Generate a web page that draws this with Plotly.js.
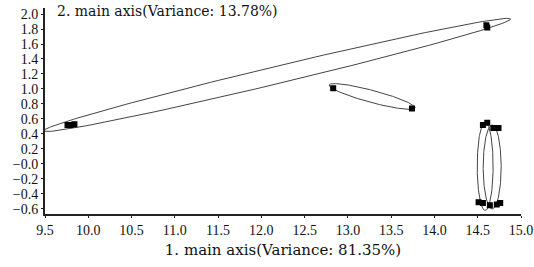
<!DOCTYPE html>
<html>
<head>
<meta charset="utf-8">
<script src="https://cdn.plot.ly/plotly-3.0.1.min.js"></script>
<style>html,body{margin:0;padding:0;background:#fff;}#chart{width:534px;height:267px;}</style>
</head>
<body>
<div id="chart"></div>
<script>
// Score points (main axis 1, main axis 2)
var pointsX = [9.76, 9.80, 9.84, 14.60, 14.61,
               12.83, 13.74,
               14.56, 14.61, 14.68, 14.74, 14.51, 14.56, 14.64, 14.72, 14.76];
var pointsY = [0.52, 0.52, 0.53, 1.85, 1.82,
               1.01, 0.74,
               0.52, 0.55, 0.48, 0.48, -0.51, -0.52, -0.55, -0.54, -0.52];

// Confidence ellipses: centre, half major-axis vector, half minor-axis vector (data units)
var ellCx  = [12.18, 13.28, 14.586, 14.667];
var ellCy  = [1.187, 0.90, -0.03, -0.04];
var ellAx  = [2.70, 0.497, 0.0, 0.0];
var ellAy  = [0.747, -0.153, 0.59, 0.56];
var ellBx  = [0.024, -0.018, 0.092, 0.104];
var ellBy  = [-0.112, -0.078, 0.0, 0.0];

var xTickVals = [9.5, 10.0, 10.5, 11.0, 11.5, 12.0, 12.5, 13.0, 13.5, 14.0, 14.5, 15.0];
var xTickText = ["9.5","10.0","10.5","11.0","11.5","12.0","12.5","13.0","13.5","14.0","14.5","15.0"];
var yTickVals = [2.0, 1.8, 1.6, 1.4, 1.2, 1.0, 0.8, 0.6, 0.4, 0.2, 0.0, -0.2, -0.4, -0.6];
var yTickText = ["2.0","1.8","1.6","1.4","1.2","1.0","0.8","0.6","0.4","0.2","\u22120.0","\u22120.2","\u22120.4","\u22120.6"];

var xTitle = "1. main axis(Variance: 81.35%)";
var yTitle = "2. main axis(Variance: 13.78%)";

var FONT = "Liberation Serif, Times New Roman, serif";
var TFONT = "DejaVu Serif, serif";
var traces = [];
for (var i = 0; i < ellCx.length; i++) {
  var ex = [], ey = [];
  for (var k = 0; k <= 180; k++) {
    var t = 2 * Math.PI * k / 180;
    ex.push(ellCx[i] + ellAx[i] * Math.cos(t) + ellBx[i] * Math.sin(t));
    ey.push(ellCy[i] + ellAy[i] * Math.cos(t) + ellBy[i] * Math.sin(t));
  }
  traces.push({x: ex, y: ey, mode: 'lines', line: {color: '#444', width: 1}, hoverinfo: 'skip', showlegend: false});
}
traces.push({x: pointsX, y: pointsY, mode: 'markers', marker: {symbol: 'square', size: 6, color: '#000'}, showlegend: false});

var layout = {
  width: 534, height: 267,
  margin: {l: 44.5, r: 13, t: 8, b: 53},
  paper_bgcolor: '#fff', plot_bgcolor: '#fff',
  showlegend: false,
  font: {family: FONT, color: '#111', size: 14},
  xaxis: {
    range: [9.5, 15.0], tickmode: 'array', tickvals: xTickVals, ticktext: xTickText,
    showgrid: false, zeroline: false, showline: true, linecolor: '#222', linewidth: 2,
    ticks: 'outside', ticklen: 2, tickcolor: '#222',
    tickfont: {family: FONT, size: 14, color: '#111'},
    title: {text: xTitle, font: {family: TFONT, size: 15, color: '#111'}, standoff: 8}
  },
  yaxis: {
    range: [-0.667, 2.08], tickmode: 'array', tickvals: yTickVals, ticktext: yTickText,
    showgrid: false, zeroline: false, showline: true, linecolor: '#222', linewidth: 2,
    ticks: 'outside', ticklen: 2, tickcolor: '#222',
    tickfont: {family: FONT, size: 14, color: '#111'}
  },
  annotations: [{
    text: yTitle, xref: 'paper', yref: 'paper', x: 0.02, y: 0.985,
    xanchor: 'left', yanchor: 'middle', showarrow: false,
    font: {family: TFONT, size: 14, color: '#111'}
  }]
};
Plotly.newPlot('chart', traces, layout, {displayModeBar: false, staticPlot: true});
</script>
</body>
</html>
